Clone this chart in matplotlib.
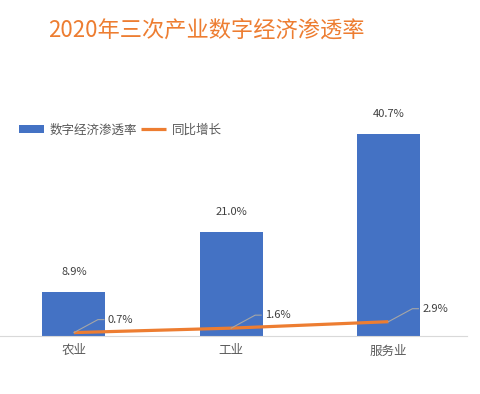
import matplotlib.pyplot as plt
from matplotlib.lines import Line2D

plt.rcParams['font.family'] = ['Noto Sans CJK SC', 'DejaVu Sans']

categories = ['农业', '工业', '服务业']
penetration = [8.9, 21.0, 40.7]
growth = [0.7, 1.6, 2.9]

blue = '#4472C4'
orange = '#ED7D31'

fig = plt.figure(figsize=(4.81, 3.94), dpi=100)
ax = fig.add_axes([0.0, 0.147, 0.971, 0.6])
x = list(range(len(categories)))

bars = ax.bar(x, penetration, width=0.4, color=blue, label='数字经济渗透率', zorder=2)
line, = ax.plot(x, growth, color=orange, linewidth=2.3, label='同比增长', zorder=3,
                solid_capstyle='butt')

ax.set_xlim(-0.47, 2.5)
ax.set_ylim(0, 236 / 4.95)
for s in ['top', 'right', 'left']:
    ax.spines[s].set_visible(False)
ax.spines['bottom'].set_color('#D9D9D9')
ax.set_yticks([])
ax.set_xticks(x)
ax.set_xticklabels(categories, fontsize=9, color='#595959')
ax.tick_params(axis='x', length=0, pad=6)

# bar labels
for xi, v in zip(x, penetration):
    ax.annotate('%.1f%%' % v, (xi, v), xytext=(0, 11), textcoords='offset points',
                ha='center', va='bottom', fontsize=8, color='#404040')

# line labels with leader lines
fig.canvas.draw()
inv = fig.transFigure.inverted()
for xi, v in zip(x, growth):
    px, py = ax.transData.transform((xi, v))
    pts = [(px, py), (px + 24, py + 13), (px + 30, py + 13)]
    fpts = inv.transform(pts)
    fig.lines.append(Line2D(fpts[:, 0], fpts[:, 1], transform=fig.transFigure,
                            color='#A6A6A6', linewidth=0.8))
    tx, ty = inv.transform((px + 34, py + 13))
    fig.text(tx, ty, '%.1f%%' % v, ha='left', va='center', fontsize=8, color='#404040')

fig.text(48 / 481, 1 - 30 / 394, '2020年三次产业数字经济渗透率', fontsize=16,
         color=orange, ha='left', va='center')

fig.legend(handles=[bars, line], loc='center left',
           bbox_to_anchor=(19 / 481, 1 - 130 / 394), ncol=2,
           frameon=False, fontsize=9, handlelength=2.0, handleheight=0.55,
           handletextpad=0.45, columnspacing=0.3, borderpad=0, borderaxespad=0,
           labelcolor='#595959')

fig.savefig('out.png', dpi=100)
